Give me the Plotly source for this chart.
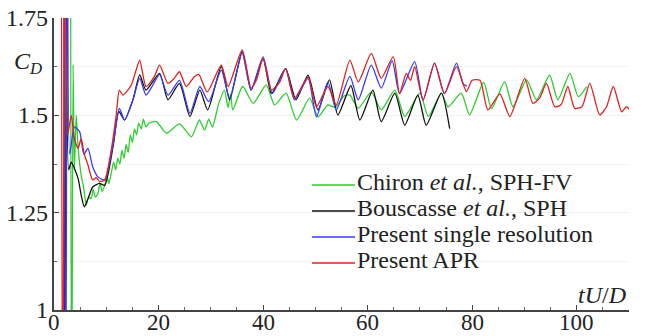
import plotly.graph_objects as go

# ---- data ----
red_t = [1.3, 1.65, 2.1, 2.6, 3.3, 3.9, 4.6, 5.2, 5.8, 6.5, 7.4, 8.1, 8.7, 9.7, 11.0, 11.9, 12.5, 13.2,
         14.8, 15.7, 16.4, 17.6, 19.2, 20.2, 21.8, 23.0, 24.0, 25.3, 26.9, 27.7, 29.3, 32.0, 33.3, 36.0,
         37.7, 38.7, 40.0, 41.6, 43.2, 44.3, 46.0, 48.6, 50.2, 52.4, 54.0, 56.6, 58.2, 60.7, 62.6, 64.9,
         66.1, 67.4, 68.2, 69.0, 70.6, 72.8, 74.7, 77.0, 78.9, 80.0, 81.5, 83.0, 85.3, 87.2, 90.05, 91.6,
         92.9, 94.2, 95.8, 97.0, 98.3, 99.6, 101.0, 102.5, 104.4, 105.7, 107.0, 108.6, 109.5, 110.1]
red_v = [3.0, 0.5, 2.2, 1.45, 1.50, 1.44, 1.415, 1.44, 1.40, 1.372, 1.334, 1.34, 1.33, 1.334, 1.415, 1.50,
         1.565, 1.552, 1.578, 1.616, 1.642, 1.574, 1.600, 1.629, 1.582, 1.595, 1.612, 1.574, 1.600, 1.605,
         1.560, 1.629, 1.574, 1.668, 1.570, 1.590, 1.646, 1.565, 1.586, 1.620, 1.544, 1.599, 1.522, 1.574,
         1.527, 1.642, 1.586, 1.659, 1.595, 1.651, 1.556, 1.608, 1.590, 1.625, 1.539, 1.634, 1.556, 1.625,
         1.561, 1.590, 1.590, 1.514, 1.555, 1.497, 1.595, 1.531, 1.544, 1.582, 1.522, 1.527, 1.574, 1.518,
         1.522, 1.582, 1.501, 1.522, 1.574, 1.509, 1.522, 1.515]

blue_t = [1.8, 2.2, 2.6, 3.0, 3.9, 4.9, 5.7, 6.5, 7.4, 8.4, 9.7, 11.3, 12.5, 13.5, 15.1, 16.4, 17.6, 18.8,
          20.2, 21.8, 24.0, 26.0, 27.9, 29.6, 32.0, 33.6, 36.0, 37.7, 40.0, 41.8, 44.3, 46.0, 48.6, 50.2,
          52.4, 54.0, 56.6, 58.2, 60.7, 62.6, 64.7, 66.1, 69.0, 70.6, 72.8, 74.7, 77.0, 78.3, 79.0]
blue_v = [3.0, 0.5, 2.2, 1.40, 1.47, 1.458, 1.40, 1.415, 1.368, 1.342, 1.334, 1.424, 1.518, 1.488, 1.540,
          1.595, 1.552, 1.575, 1.605, 1.552, 1.590, 1.505, 1.574, 1.535, 1.616, 1.544, 1.660, 1.565, 1.650,
          1.556, 1.620, 1.540, 1.595, 1.496, 1.586, 1.514, 1.600, 1.540, 1.629, 1.570, 1.640, 1.556, 1.638,
          1.539, 1.634, 1.556, 1.634, 1.580, 1.575]

black_t = [1.8, 2.1, 2.4, 2.8, 3.3, 4.6, 5.2, 5.8, 6.5, 7.4, 8.7, 9.7, 11.3, 12.4, 13.5, 15.1, 16.4, 17.6,
           20.2, 21.8, 24.0, 26.0, 27.9, 29.4, 32.0, 33.6, 36.0, 37.7, 40.0, 41.6, 44.3, 46.3, 48.6, 50.5,
           52.7, 54.3, 56.8, 58.5, 61.0, 62.6, 65.2, 67.1, 69.6, 71.2, 74.1, 75.7]
black_v = [3.0, 0.5, 2.0, 1.36, 1.38, 1.338, 1.295, 1.265, 1.286, 1.316, 1.325, 1.32, 1.42, 1.51, 1.488,
           1.54, 1.604, 1.565, 1.608, 1.54, 1.582, 1.497, 1.565, 1.514, 1.625, 1.540, 1.664, 1.565, 1.645,
           1.556, 1.620, 1.540, 1.603, 1.514, 1.591, 1.501, 1.576, 1.488, 1.565, 1.484, 1.557, 1.475, 1.552,
           1.475, 1.557, 1.466]

green_t = [3.1, 3.35, 3.65, 3.9, 4.25, 4.6, 5.2, 5.6, 6.2, 6.6, 7.1, 7.5, 7.9, 8.4, 8.8, 9.2, 9.7, 10.1,
           10.5, 11.0, 11.4, 11.8, 12.2, 12.6, 13.0, 13.4, 13.8, 14.2, 14.6, 15.0, 15.4, 15.8, 16.2, 16.7,
           17.1, 17.6, 18.2, 19.6, 21.5, 24.0, 26.3, 27.8, 28.8, 29.6, 30.3, 31.5, 32.6, 33.3, 33.8, 34.2,
           36.1, 38.1, 40.6, 42.2, 44.4, 46.4, 48.9, 50.5, 52.4, 53.8, 55.5, 56.6, 58.2, 60.7, 62.6, 65.2,
           67.1, 70.0, 71.6, 74.1, 75.4, 77.9, 79.5, 82.2, 83.7, 86.2, 87.8, 90.4, 92.3, 94.8, 96.4, 98.7,
           100.3, 101.9]
green_v = [3.0, 0.5, 1.63, 1.36, 1.50, 1.42, 1.346, 1.32, 1.27, 1.29, 1.286, 1.31, 1.29, 1.30, 1.325, 1.305,
           1.32, 1.345, 1.325, 1.355, 1.38, 1.36, 1.39, 1.375, 1.41, 1.39, 1.425, 1.405, 1.45, 1.43, 1.465,
           1.45, 1.48, 1.465, 1.49, 1.47, 1.48, 1.484, 1.454, 1.478, 1.445, 1.488, 1.462, 1.49, 1.47, 1.53,
           1.565, 1.52, 1.555, 1.514, 1.574, 1.531, 1.578, 1.527, 1.557, 1.488, 1.544, 1.496, 1.527, 1.52,
           1.55, 1.552, 1.518, 1.56, 1.514, 1.565, 1.497, 1.557, 1.497, 1.557, 1.522, 1.557, 1.501, 1.585,
           1.517, 1.586, 1.522, 1.591, 1.54, 1.603, 1.54, 1.608, 1.548, 1.574]

x_ticks = [0, 20, 40, 60, 80, 100]
x_tick_text = ["0", "20", "40", "60", "80", "100"]
y_ticks = [1, 1.25, 1.5, 1.75]
y_tick_text = ["1", "1.25", "1.5", "1.75"]

names = ["Chiron <i>et al.</i>, SPH-FV", "Bouscasse <i>et al.</i>, SPH",
         "Present single resolution", "Present APR"]
colors = ["#2ecc2e", "#111111", "#3a3aff", "#e02020"]

FONT = "Liberation Serif, Times New Roman, serif"
FS = 24
TXT = "#222"

# plot-area geometry in pixels (layout only)
W, H = 648, 336
ML, MR, MT, MB = 54, 19, 18, 26
PW, PH = W - ML - MR, H - MT - MB


def px_to_paper_x(px):
    return (px - ML) / PW


def py_to_paper_y(py):
    return (H - MB - py) / PH


fig = go.Figure()
series = [(green_t, green_v), (black_t, black_v), (blue_t, blue_v), (red_t, red_v)]
for (t, v), n, c in zip(series, names, colors):
    fig.add_trace(go.Scatter(x=t, y=v, mode="lines", name=n, showlegend=False,
                             line=dict(color=c, width=1.3, shape="spline", smoothing=0.6)))

fig.update_layout(
    width=W, height=H,
    margin=dict(l=ML, r=MR, t=MT, b=MB),
    paper_bgcolor="white", plot_bgcolor="white",
    font=dict(family=FONT, size=FS, color=TXT),
    showlegend=False,
    xaxis=dict(range=[0, 110], tickvals=x_ticks, ticks="inside", ticklen=5, tickwidth=1,
               tickcolor="#444", showline=True, linecolor="#444", linewidth=1.5,
               showgrid=False, zeroline=False, showticklabels=False,
               minor=dict(dtick=5, tick0=0, ticks="inside", ticklen=3, tickcolor="#666")),
    yaxis=dict(range=[1, 1.75], tickvals=y_ticks, ticks="inside",
               ticklen=5, tickwidth=1, tickcolor="#444", showline=True, linecolor="#444",
               linewidth=1.5, showgrid=True, gridcolor="#efefef", gridwidth=1, zeroline=False,
               showticklabels=False,
               minor=dict(dtick=0.125, tick0=1, ticks="inside", ticklen=3, tickcolor="#666",
                          showgrid=True, gridcolor="#f3f3f3")),
)

# tick labels (as text placed through the axes' own scales)
for xv, xt in zip(x_ticks, x_tick_text):
    fig.add_annotation(text=xt, x=xv, xref="x", y=0, yref="paper", yanchor="top", xanchor="center",
                       yshift=2, showarrow=False, font=dict(family=FONT, size=23, color=TXT))
for yv, yt in zip(y_ticks, y_tick_text):
    fig.add_annotation(text=yt, x=0, xref="paper", y=yv, yref="y", xanchor="right", yanchor="middle",
                       xshift=-4, showarrow=False, font=dict(family=FONT, size=FS, color=TXT))

# axis titles
fig.add_annotation(text="<i>C</i><sub><i>D</i></sub>", xref="paper", yref="paper",
                   x=px_to_paper_x(12), y=py_to_paper_y(63), xanchor="left", yanchor="middle",
                   showarrow=False, font=dict(family=FONT, size=FS, color=TXT))
fig.add_annotation(text="<i>tU</i>/<i>D</i>", xref="paper", yref="paper",
                   x=px_to_paper_x(628), y=py_to_paper_y(295), xanchor="right", yanchor="middle",
                   showarrow=False, font=dict(family=FONT, size=FS, color=TXT))

# legend (key lines + labels)
row_y = [182, 208, 234, 260]
for n, c, ry in zip(names, colors, row_y):
    fig.add_shape(type="line", xref="paper", yref="paper",
                  x0=px_to_paper_x(312), x1=px_to_paper_x(355),
                  y0=py_to_paper_y(ry + 3), y1=py_to_paper_y(ry + 3),
                  line=dict(color=c, width=1.3))
    fig.add_annotation(text=n, xref="paper", yref="paper", x=px_to_paper_x(355),
                       y=py_to_paper_y(ry), xanchor="left", yanchor="middle", showarrow=False,
                       font=dict(family=FONT, size=FS, color=TXT))

fig.write_html("out.html")
